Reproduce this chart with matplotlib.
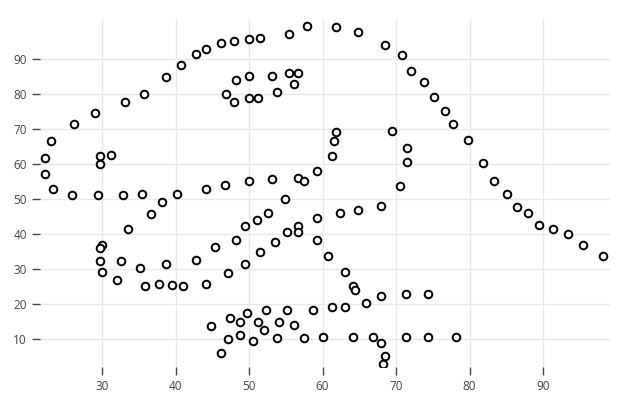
import matplotlib
matplotlib.use("Agg")
import matplotlib.pyplot as plt

plt.rcParams['font.family'] = ['Open Sans', 'DejaVu Sans']

x_vals = [55.3846, 51.5385, 46.1538, 42.8205, 40.7692, 38.7179, 35.641, 33.0769, 28.9744, 26.1538,
          23.0769, 22.3077, 22.3077, 23.3333, 25.8974, 29.4872, 32.8205, 35.3846, 40.2564, 44.1026,
          46.6667, 50, 53.0769, 56.6667, 59.2308, 61.2821, 61.5385, 61.7949, 57.4359, 54.8718,
          52.5641, 48.2051, 49.4872, 51.0256, 45.3846, 42.8205, 38.7179, 35.1282, 32.5641, 30,
          33.5897, 36.6667, 38.2051, 29.7436, 29.7436, 30, 32.0513, 35.8974, 41.0256, 44.1026,
          47.1795, 49.4872, 51.5385, 53.5897, 55.1282, 56.6667, 59.2308, 62.3077, 64.8718, 67.9487,
          70.5128, 71.5385, 71.5385, 69.4872, 46.9231, 48.2051, 50, 53.0769, 55.3846, 56.6667,
          56.1538, 53.8462, 51.2821, 50, 47.9487, 29.7436, 29.7436, 31.2821, 57.9487, 61.7949,
          64.8718, 68.4615, 70.7692, 72.0513, 73.8462, 75.1282, 76.6667, 77.6923, 79.7436, 81.7949,
          83.3333, 85.1282, 86.4103, 87.9487, 89.4872, 93.3333, 95.3846, 98.2051, 56.6667, 59.2308,
          60.7692, 63.0769, 64.1026, 64.359, 74.359, 71.2821, 67.9487, 65.8974, 63.0769, 61.2821,
          58.7179, 55.1282, 52.3077, 49.7436, 47.4359, 44.8718, 48.7179, 51.2821, 54.1026, 56.1538,
          52.0513, 48.7179, 47.1795, 46.1538, 50.5128, 53.8462, 57.4359, 60, 64.1026, 66.9231,
          71.2821, 74.359, 78.2051, 67.9487, 68.4615, 68.2051, 37.6923, 39.4872, 91.2821, 50,
          47.9487, 44.1026]
y_vals = [97.1795, 96.0256, 94.4872, 91.4103, 88.3333, 84.8718, 79.8718, 77.5641, 74.4872, 71.4103,
          66.4103, 61.7949, 57.1795, 52.9487, 51.0256, 51.0256, 51.0256, 51.4103, 51.4103, 52.9487,
          54.1026, 55.2564, 55.641, 56.0256, 57.9487, 62.1795, 66.4103, 69.1026, 55.2564, 49.8718,
          46.0256, 38.3333, 42.1795, 44.1026, 36.4103, 32.5641, 31.4103, 30.2564, 32.1795, 36.7949,
          41.4103, 45.641, 49.1026, 36.0256, 32.1795, 29.1026, 26.7949, 25.2564, 25.2564, 25.641,
          28.718, 31.4103, 34.8718, 37.5641, 40.641, 42.1795, 44.4872, 46.0256, 46.7949, 47.9487,
          53.718, 60.641, 64.4872, 69.4872, 79.8718, 84.1026, 85.2564, 85.2564, 86.0256, 86.0256,
          82.9487, 80.641, 78.718, 78.718, 77.5641, 59.8718, 62.1795, 62.5641, 99.4872, 99.1026,
          97.5641, 94.1026, 91.0256, 86.4103, 83.3333, 79.1026, 75.2564, 71.4103, 66.7949, 60.2564,
          55.2564, 51.4103, 47.5641, 46.0256, 42.5641, 39.8718, 36.7949, 33.718, 40.641, 38.3333,
          33.718, 29.1026, 25.2564, 24.1026, 22.9487, 22.9487, 22.1795, 20.2564, 19.1026, 19.1026,
          18.2051, 18.2051, 18.2051, 17.5641, 16.0256, 13.7179, 14.8718, 14.8718, 14.8718, 14.1026,
          12.5641, 11.0256, 9.8718, 6.0256, 9.4872, 10.2564, 10.2564, 10.641, 10.641, 10.641,
          10.641, 10.641, 10.641, 8.718, 5.2564, 2.9487, 25.7692, 25.3846, 41.5385, 95.7692,
          95, 92.6923]

x_ticks = [30, 40, 50, 60, 70, 80, 90]
y_ticks = [10, 20, 30, 40, 50, 60, 70, 80, 90]

fig = plt.figure(figsize=(6.4, 4.0), dpi=100)
ax = fig.add_axes([40 / 640, 1 - 367 / 400, 570 / 640, 348 / 400])

ax.scatter(x_vals, y_vals, s=30, facecolors='white', edgecolors='black',
           linewidths=1.4, zorder=3)

ax.set_xlim(21.56, 99.1)
ax.set_ylim(2.0, 101.4)
ax.set_xticks(x_ticks)
ax.set_yticks(y_ticks)
ax.grid(True, color='#e8e8e8', linewidth=1)

for s in ax.spines.values():
    s.set_visible(False)
ax.tick_params(axis='both', which='major', direction='out', length=6, width=1,
               bottom=True, left=True,
               color='#444444', labelcolor='#444444', labelsize=8.5)

fig.savefig('out.png', dpi=100, facecolor='white')
